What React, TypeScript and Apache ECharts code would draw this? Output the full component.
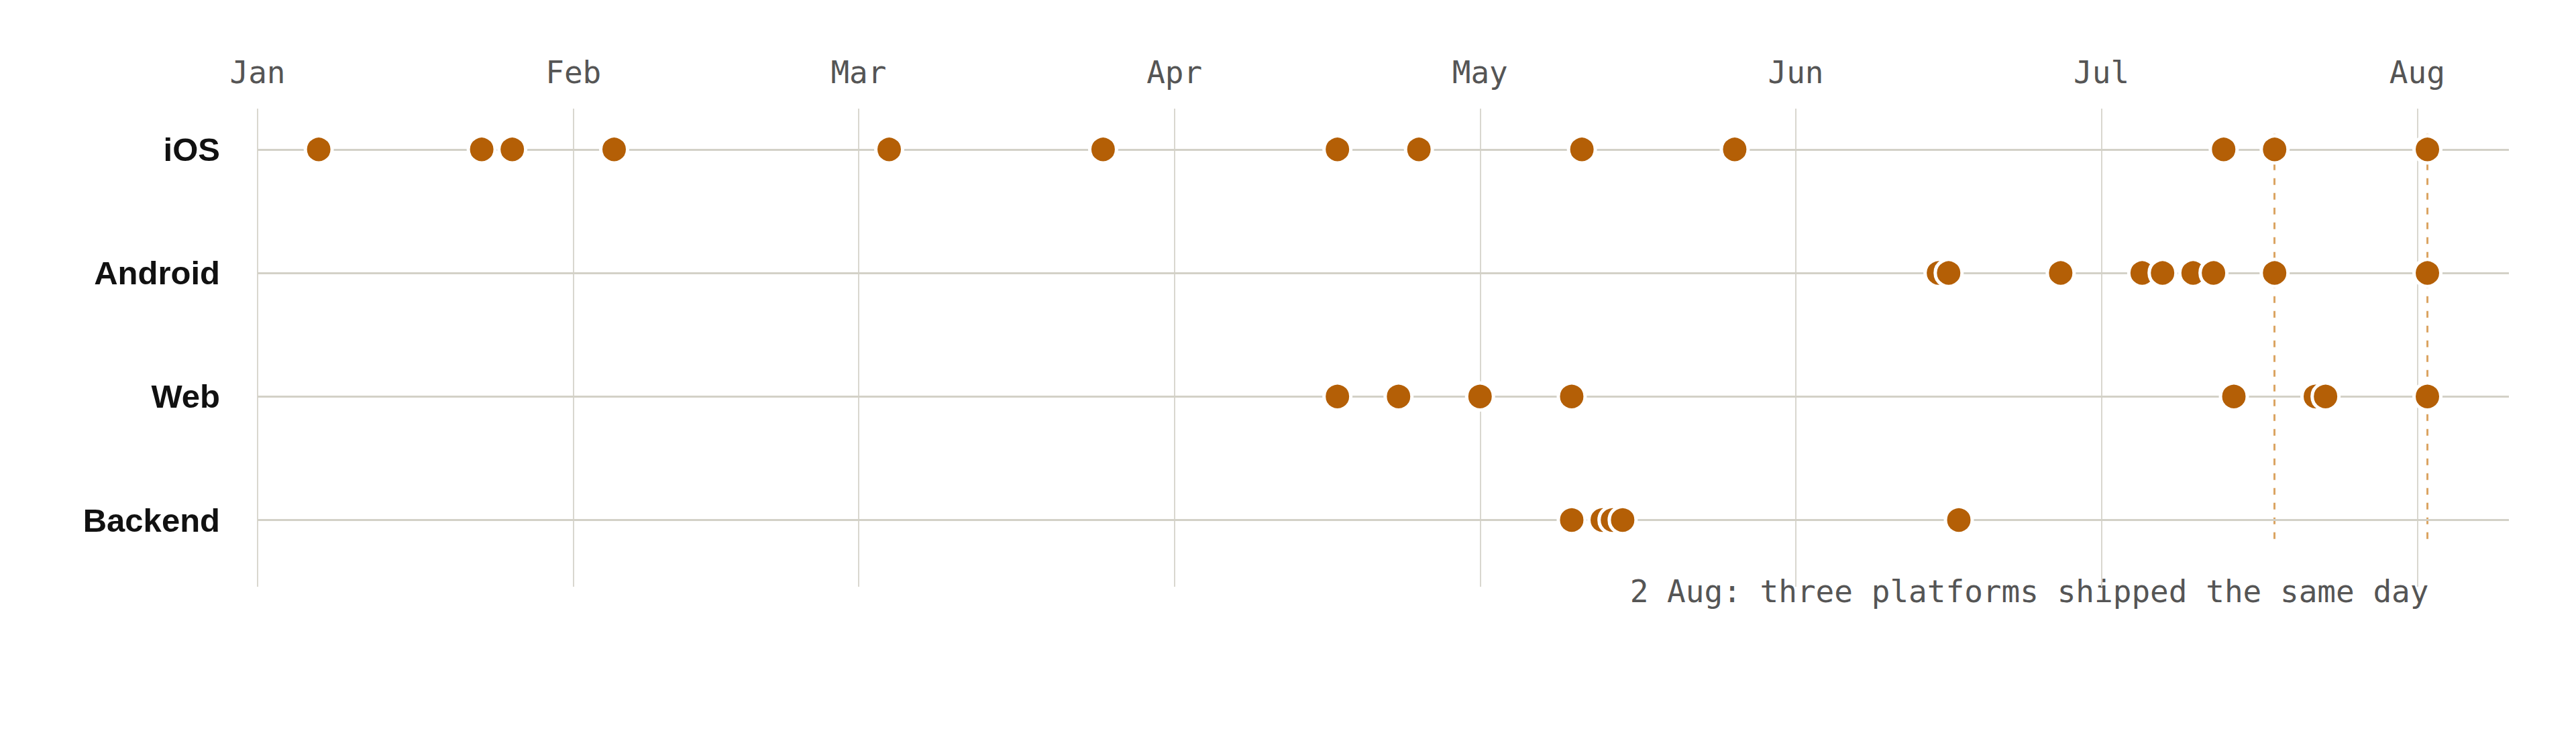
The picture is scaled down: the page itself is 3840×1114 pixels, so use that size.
import React, { useEffect, useRef } from 'react';
import * as echarts from 'echarts';

const platforms = ['iOS', 'Android', 'Web', 'Backend'];

const iosReleases = [
  '2023-01-07', '2023-01-23', '2023-01-26', '2023-02-05', '2023-03-04', '2023-03-25', '2023-04-17',
  '2023-04-25', '2023-05-11', '2023-05-26', '2023-07-13', '2023-07-18', '2023-08-02',
];
const androidReleases = [
  '2023-06-15', '2023-06-16', '2023-06-27', '2023-07-05', '2023-07-07', '2023-07-10', '2023-07-12',
  '2023-07-18', '2023-08-02',
];
const webReleases = [
  '2023-04-17', '2023-04-23', '2023-05-01', '2023-05-10', '2023-07-14', '2023-07-22', '2023-07-23',
  '2023-08-02',
];
const backendReleases = ['2023-05-10', '2023-05-13', '2023-05-14', '2023-05-15', '2023-06-17'];

const monthTicks = [
  '2023-01-01', '2023-02-01', '2023-03-01', '2023-04-01', '2023-05-01', '2023-06-01', '2023-07-01', '2023-08-01',
];
const monthLabels = ['Jan', 'Feb', 'Mar', 'Apr', 'May', 'Jun', 'Jul', 'Aug'];

const axisStart = '2023-01-01';
const axisEnd = '2023-08-10';

// days where several platforms shipped together
const highlightDays = ['2023-07-18', '2023-08-02'];
const annotationDay = '2023-08-02';
const annotationText = '2 Aug: three platforms shipped the same day';

const toTime = (d: string) => Date.parse(d + 'T00:00:00Z');

const DOT = '#b45f06';
const RULE = '#d3d1c7';
const GRID = '#d9d7cf';
const DASH = '#dba462';
const MONO = '"DejaVu Sans Mono", monospace';

const App: React.FC = () => {
  const chartRef = useRef<HTMLDivElement>(null);

  useEffect(() => {
    if (!chartRef.current) return;
    const chart = echarts.init(chartRef.current, undefined, { renderer: 'svg' });

    const releases = [iosReleases, androidReleases, webReleases, backendReleases];
    const tickTimes = monthTicks.map(toTime);

    const series: any[] = platforms.map((name, i) => ({
      type: 'scatter',
      name,
      z: 3,
      data: releases[i].map(d => [toTime(d), i]),
      symbolSize: 40,
      itemStyle: { color: DOT, borderColor: '#fff', borderWidth: 5, opacity: 1 },
      markLine: {
        silent: true,
        symbol: 'none',
        z: 1,
        label: { show: false },
        emphasis: { disabled: true },
        lineStyle: { color: RULE, width: 3, type: 'solid' },
        data: [{ yAxis: i }],
      },
    }));

    // month gridlines and dashed highlight lines ride on the first series
    series[0].markLine.data = [
      ...tickTimes.map(t => ({ xAxis: t, lineStyle: { color: GRID, width: 2, type: 'solid' } })),
      { yAxis: 0 },
      ...highlightDays.map(d => [
        { coord: [toTime(d), -0.125], lineStyle: { color: DASH, width: 3, type: [10, 12] } },
        { coord: [toTime(d), 3.16] },
      ]),
    ];

    const option: any = {
      animation: false,
      backgroundColor: '#fff',
      grid: { left: 384, right: 100, top: 162, bottom: 239 },
      xAxis: {
        type: 'value',
        position: 'top',
        min: toTime(axisStart),
        max: toTime(axisEnd),
        axisLine: { show: false },
        axisTick: { show: false },
        splitLine: { show: false },
        axisLabel: {
          customValues: tickTimes,
          formatter: (v: number) => monthLabels[tickTimes.indexOf(v)] ?? '',
          fontFamily: MONO,
          fontSize: 46,
          color: '#555',
          margin: 31,
        },
      },
      yAxis: {
        type: 'value',
        inverse: true,
        min: -0.33,
        max: 3.54,
        axisLine: { show: false },
        axisTick: { show: false },
        splitLine: { show: false },
        axisLabel: {
          customValues: [0, 1, 2, 3],
          formatter: (v: number) => platforms[v] ?? '',
          fontFamily: '"Liberation Sans", Arial, sans-serif',
          fontWeight: 'bold',
          fontSize: 49,
          color: '#111',
          margin: 56,
        },
      },
      series,
    };

    chart.setOption(option);

    // annotation anchored under the 2 Aug line
    const [ax, ay] = chart.convertToPixel({ xAxisIndex: 0, yAxisIndex: 0 }, [toTime(annotationDay), 3.54]);
    chart.setOption({
      graphic: [
        {
          type: 'text',
          x: ax + 2,
          y: ay + 7,
          silent: true,
          style: {
            text: annotationText,
            font: `46px ${MONO}`,
            fill: '#555',
            align: 'right',
            verticalAlign: 'middle',
          },
        },
      ],
    });

    const handleResize = () => chart.resize();
    window.addEventListener('resize', handleResize);

    return () => {
      window.removeEventListener('resize', handleResize);
      chart.dispose();
    };
  }, []);

  return (
    <div
      ref={chartRef}
      style={{ position: 'absolute', left: 0, top: 0, width: '3840px', height: '1114px' }}
    />
  );
};

export default App;
